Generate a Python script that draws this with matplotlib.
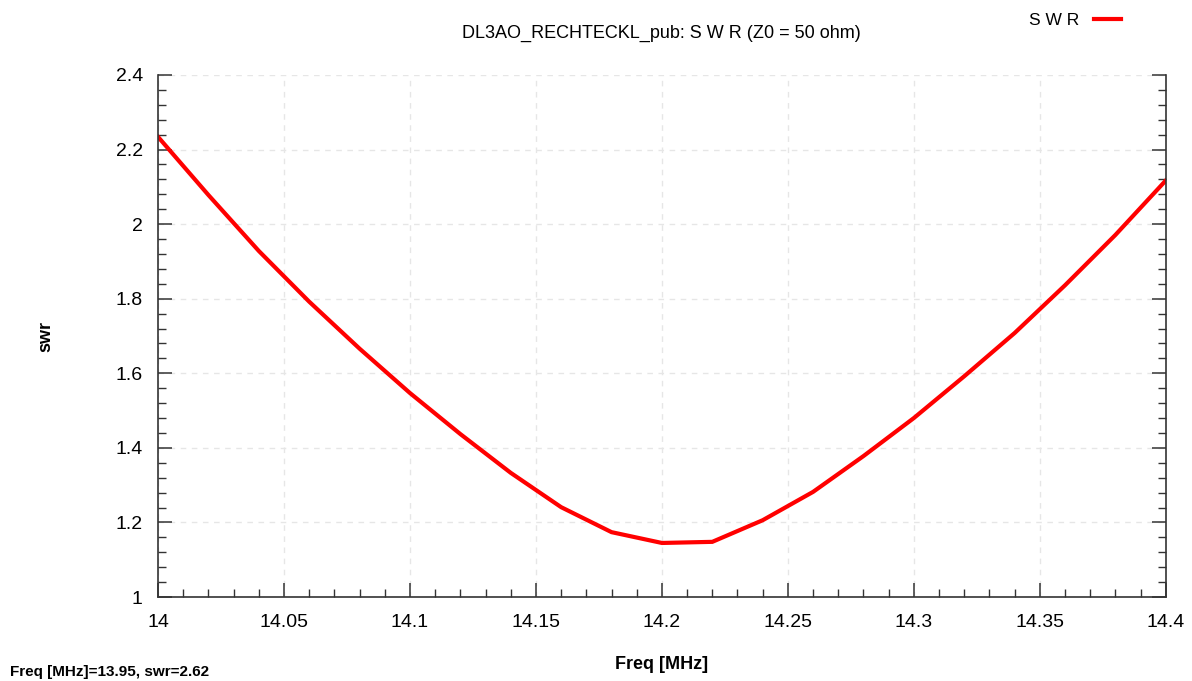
import matplotlib
matplotlib.use("Agg")
import matplotlib.pyplot as plt
from matplotlib.ticker import MultipleLocator, FuncFormatter

# SWR sweep
freq = [14.00, 14.02, 14.04, 14.06, 14.08, 14.10, 14.12, 14.14, 14.16, 14.18, 14.20,
        14.22, 14.24, 14.26, 14.28, 14.30, 14.32, 14.34, 14.36, 14.38, 14.40]
swr = [2.234, 2.078, 1.928, 1.792, 1.666, 1.547, 1.437, 1.333, 1.241, 1.174, 1.145,
       1.148, 1.206, 1.282, 1.378, 1.480, 1.592, 1.708, 1.836, 1.971, 2.117]

title = "DL3AO_RECHTECKL_pub: S W R (Z0 = 50 ohm)"
cursor_text = "Freq [MHz]=13.95, swr=2.62"

plt.rcParams['font.family'] = ['Liberation Sans', 'DejaVu Sans']

fig = plt.figure(figsize=(11.92, 6.81), dpi=100)
ax = fig.add_axes([0.1326, 0.1233, 0.978 - 0.1326, 0.8899 - 0.1233])

ax.plot(freq, swr, color='#ff0000', lw=3.0, solid_joinstyle='miter', label='S W R')

ax.set_xlim(14.0, 14.4)
ax.set_ylim(1.0, 2.4)
ax.xaxis.set_major_locator(MultipleLocator(0.05))
ax.xaxis.set_minor_locator(MultipleLocator(0.01))
ax.yaxis.set_major_locator(MultipleLocator(0.2))
ax.yaxis.set_minor_locator(MultipleLocator(0.04))
ax.xaxis.set_major_formatter(FuncFormatter(lambda v, p: f"{v:.2f}".rstrip('0').rstrip('.')))
ax.yaxis.set_major_formatter(FuncFormatter(lambda v, p: f"{v:.1f}".rstrip('0').rstrip('.')))

ax.grid(True, which='major', color='#e6e6e6', ls=(0, (4, 4)), lw=1.0)
ax.spines['top'].set_visible(False)
for s in ('left', 'right', 'bottom'):
    ax.spines[s].set_color('#333333')
    ax.spines[s].set_linewidth(1.2)

ax.tick_params(which='both', direction='in', top=False, right=True, colors='#333333',
               labelcolor='black', labelsize=14)
ax.tick_params(which='major', length=10, width=1.1)
ax.tick_params(which='minor', length=5.5, width=1.0)
ax.tick_params(axis='x', which='major', pad=12)
ax.tick_params(axis='y', which='major', pad=11)

ax.set_xlabel("Freq [MHz]", fontsize=13, fontweight='bold', labelpad=18)
ax.set_ylabel("swr", fontsize=13, fontweight='bold', labelpad=44)

fig.text(0.5545, 0.951, title, ha='center', va='center', fontsize=13)
fig.text(0.008, 0.013, cursor_text, ha='left', va='center', fontsize=11, fontweight='bold')

leg = ax.legend(loc='upper right', bbox_to_anchor=(0.971, 1.148), frameon=False,
                fontsize=12.5, handlelength=1.55, handletextpad=0.85, markerfirst=False)

fig.savefig("out.png", dpi=100)
